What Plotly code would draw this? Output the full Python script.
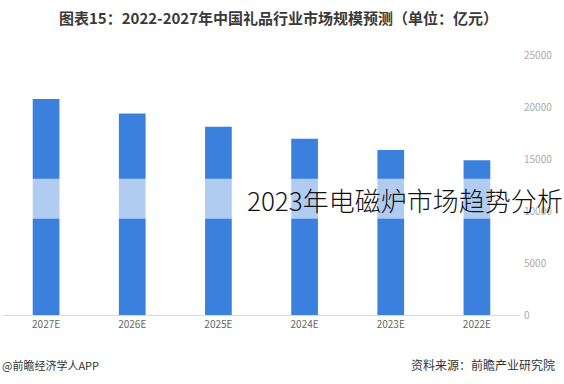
import plotly.graph_objects as go

years = ["2022E", "2023E", "2024E", "2025E", "2026E", "2027E"]
values = [14870, 15870, 16950, 18100, 19380, 20770]
y_ticks = [0, 5000, 10000, 15000, 20000, 25000]
y_tick_labels = ["0", "5000", "10000", "15000", "20000", "25000"]
title_text = "图表15：2022-2027年中国礼品行业市场规模预测（单位：亿元）"
source_text = "资料来源：前瞻产业研究院"
brand_text = "@前瞻经济学人APP"
overlay_text = "2023年电磁炉市场趋势分析"
band_range = [9250, 13100]

W, H = 564, 384
L, R, T, B = 3, 44, 55, 69
pw = W - L - R
ph = H - T - B

def px(x):
    return (x - L) / pw

def py(y):
    return (H - B - y) / ph

fig = go.Figure()
fig.add_trace(go.Bar(
    x=years, y=values,
    marker=dict(color="#3a80dc", line=dict(width=0)),
    hoverinfo="x+y",
))

fig.add_shape(type="rect", xref="paper", yref="y",
              x0=0, x1=1, y0=band_range[0], y1=band_range[1],
              fillcolor="rgba(255,255,255,0.6)", line=dict(width=0), layer="above")

fig.update_layout(
    width=W, height=H,
    margin=dict(l=L, r=R, t=T, b=B),
    paper_bgcolor="white", plot_bgcolor="white",
    bargap=0.69,
    showlegend=False,
    font=dict(family="Noto Sans CJK SC, Noto Sans, sans-serif"),
    xaxis=dict(
        type="category", autorange="reversed",
        showline=True, linecolor="#d9d9d9", linewidth=1,
        ticks="", showgrid=False,
        tickfont=dict(size=10, color="#666666"),
    ),
    yaxis=dict(
        side="right", range=[0, 25000], tickvals=y_ticks, ticktext=y_tick_labels,
        showgrid=False, zeroline=False, showline=False,
        tickfont=dict(size=10, color="#aaaaaa"),
        ticklabelstandoff=3, automargin=False,
    ),
)

common = dict(xref="paper", yref="paper", xanchor="left", yanchor="middle",
              align="left", showarrow=False, borderpad=0)
fig.add_annotation(text="<b>" + title_text + "</b>", x=px(58), y=py(17),
                   font=dict(size=15, color="#3a3a3a"), **common)
fig.add_annotation(text=source_text, x=px(410), y=py(364),
                   font=dict(size=12, color="#333333"), **common)
fig.add_annotation(text=brand_text, x=px(1), y=py(365),
                   font=dict(size=11, color="#333333"), **common)
fig.add_annotation(text=overlay_text, x=px(246), y=py(199),
                   font=dict(size=26, color="#111111",
                             family="Noto Sans CJK SC Light, Noto Sans CJK SC, sans-serif"),
                   **common)

fig.write_html("out.html", config={"displayModeBar": False},
               post_script="document.body.style.margin='0';")
